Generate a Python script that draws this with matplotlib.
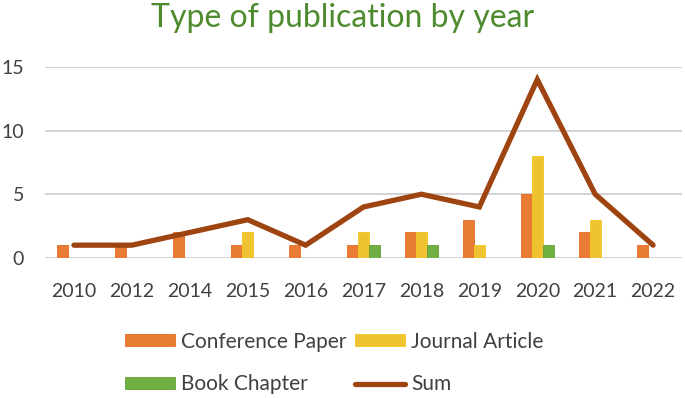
import matplotlib
matplotlib.use("Agg")
from matplotlib import pyplot as plt
import numpy as np

years = ["2010", "2012", "2014", "2015", "2016", "2017", "2018", "2019", "2020", "2021", "2022"]
conference = [1, 1, 2, 1, 1, 1, 2, 3, 5, 2, 1]
journal = [0, 0, 0, 2, 0, 2, 2, 1, 8, 3, 0]
book = [0, 0, 0, 0, 0, 1, 1, 0, 1, 0, 0]
total = [1, 1, 2, 3, 1, 4, 5, 4, 14, 5, 1]

plt.rcParams['font.family'] = ['Lato', 'DejaVu Sans']

fig = plt.figure(figsize=(6.85, 3.98), dpi=100)
ax = fig.add_axes([0.0657, 0.352, 0.93, 0.48])

x = np.arange(len(years))
w = 0.19
b1 = ax.bar(x - w, conference, w, color='#E97C35', edgecolor='#E46C1E', linewidth=0.6, label='Conference Paper', zorder=2)
b2 = ax.bar(x, journal, w, color='#EEC231', edgecolor='#F2C81E', linewidth=0.6, label='Journal Article', zorder=2)
b3 = ax.bar(x + w, book, w, color='#70B043', edgecolor='#62A03A', linewidth=0.6, label='Book Chapter', zorder=2)
l1, = ax.plot(x, total, color='#9E4410', linewidth=3.8, solid_capstyle='round', solid_joinstyle='miter', label='Sum', zorder=3)

ax.set_xlim(-0.5, len(years) - 0.5)
ax.set_ylim(0, 15)
ax.set_yticks([0, 5, 10, 15])
ax.set_xticks(x)
ax.set_xticklabels(years)
ax.tick_params(length=0, labelsize=14, colors='#404040')
ax.tick_params(axis='x', pad=18)
ax.tick_params(axis='y', pad=15)
ax.grid(axis='y', color='#d0d0d0', linewidth=1.3, zorder=0)
for s in ax.spines.values():
    s.set_visible(False)

fig.text(0.5, 0.955, "Type of publication by year", ha='center', va='center',
         fontsize=23, color='#4E8A2E')

fig.legend([b1, b3, b2, l1], ['Conference Paper', 'Book Chapter', 'Journal Article', 'Sum'],
           ncol=2, loc='center', bbox_to_anchor=(0.488, 0.088), frameon=False,
           fontsize=15, handlelength=2.4, handleheight=0.55, handletextpad=0.3,
           columnspacing=0.4, labelspacing=1.1, labelcolor='#404040')

fig.savefig("out.png", dpi=100)
